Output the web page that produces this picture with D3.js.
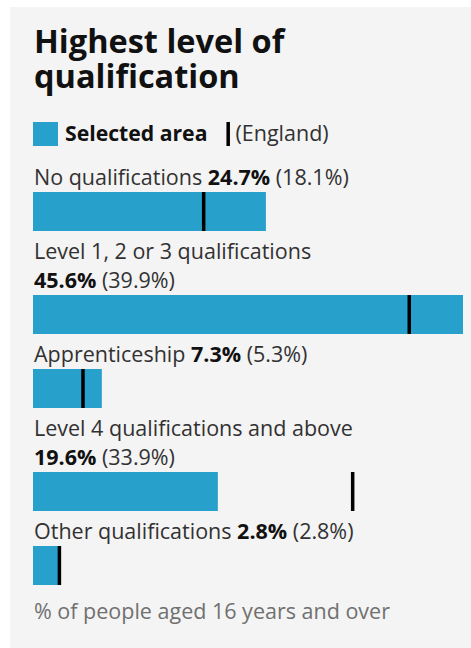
<!DOCTYPE html>
<html>
<head>
<meta charset="utf-8">
<script src="https://cdn.jsdelivr.net/npm/d3@7"></script>
<style>
    body { margin: 0; background: #fff; font-family: "Open Sans", sans-serif; }
    svg { display: block; }
</style>
</head>
<body>
<svg id="chart"></svg>
<script>
const categories = [
    'No qualifications',
    'Level 1, 2 or 3 qualifications',
    'Apprenticeship',
    'Level 4 qualifications and above',
    'Other qualifications'
];
const areaValues = [24.7, 45.6, 7.3, 19.6, 2.8];
const englandValues = [18.1, 39.9, 5.3, 33.9, 2.8];

const titleLines = ['Highest level of', 'qualification'];
const legendArea = 'Selected area';
const legendEngland = '(England)';
const footnote = '% of people aged 16 years and over';

const W = 471, H = 648;
const left = 33, right = 463;
const barH = 39;
const fontSize = '21.5px';
const maxLabelWidth = 390;

const svg = d3.select('#chart')
    .attr('width', W)
    .attr('height', H);

// panel
svg.append('rect')
    .attr('x', 10)
    .attr('y', 7)
    .attr('width', W - 10)
    .attr('height', H - 7)
    .attr('fill', '#f4f4f4');

// title
svg.append('g')
    .selectAll('text')
    .data(titleLines)
    .join('text')
    .attr('x', left + 1)
    .attr('y', (d, i) => 53 + i * 35)
    .attr('fill', '#111')
    .style('font-size', '32.5px')
    .style('font-weight', 700)
    .text(d => d);

// legend
const legend = svg.append('g');
legend.append('rect')
    .attr('x', left)
    .attr('y', 122)
    .attr('width', 25)
    .attr('height', 24)
    .attr('fill', '#27a0cc');
const legText = legend.append('text')
    .attr('x', 65)
    .attr('y', 141)
    .attr('fill', '#111')
    .style('font-size', '21.2px')
    .style('font-weight', 700)
    .text(legendArea);
const legEnd = 65 + legText.node().getComputedTextLength();
legend.append('rect')
    .attr('x', legEnd + 19)
    .attr('y', 122)
    .attr('width', 3.5)
    .attr('height', 24)
    .attr('fill', '#000');
legend.append('text')
    .attr('x', legEnd + 28)
    .attr('y', 141)
    .attr('fill', '#323132')
    .style('font-size', fontSize)
    .text(legendEngland);

const x = d3.scaleLinear()
    .domain([0, d3.max(areaValues)])
    .range([left, right]);

const fmt = v => v.toFixed(1) + '%';

// rows
let y = 185;
categories.forEach((cat, i) => {
    const g = svg.append('g');
    const t = g.append('text')
        .attr('x', left + 1)
        .attr('y', y)
        .style('font-size', fontSize)
        .attr('fill', '#323132');
    t.append('tspan').text(cat + ' ');
    t.append('tspan').attr('font-weight', 700).attr('fill', '#111').text(fmt(areaValues[i]));
    t.append('tspan').text(' (' + fmt(englandValues[i]) + ')');

    if (t.node().getComputedTextLength() > maxLabelWidth) {
        // wrap value to next line
        t.selectAll('tspan').remove();
        t.append('tspan').text(cat);
        y += 29;
        const t2 = g.append('text')
            .attr('x', left + 1)
            .attr('y', y)
            .style('font-size', fontSize)
            .attr('fill', '#323132');
        t2.append('tspan').attr('font-weight', 700).attr('fill', '#111').text(fmt(areaValues[i]));
        t2.append('tspan').text(' (' + fmt(englandValues[i]) + ')');
    }

    const barTop = y + 7;
    g.append('rect')
        .attr('x', x(0))
        .attr('y', barTop)
        .attr('width', x(areaValues[i]) - x(0))
        .attr('height', barH)
        .attr('fill', '#27a0cc');
    g.append('rect')
        .attr('x', x(englandValues[i]) - 1.75)
        .attr('y', barTop)
        .attr('width', 3.5)
        .attr('height', barH)
        .attr('fill', '#000');

    y = barTop + barH + 28;
});

svg.append('text')
    .attr('x', left + 1)
    .attr('y', y + 6)
    .attr('fill', '#707070')
    .style('font-size', fontSize)
    .text(footnote);
</script>
</body>
</html>
